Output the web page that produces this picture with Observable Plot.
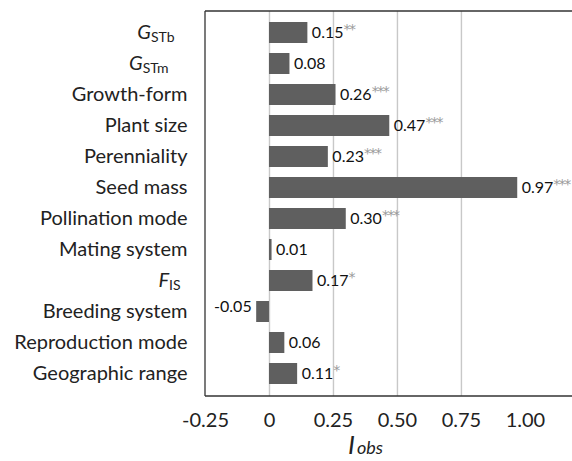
<!DOCTYPE html>
<html><head><meta charset="utf-8">
<script src="https://cdn.jsdelivr.net/npm/d3@7"></script>
<script src="https://cdn.jsdelivr.net/npm/@observablehq/plot@0.6"></script>
<style>body{margin:0;background:#fff;font-family:Lato,sans-serif;overflow:hidden}</style>
</head><body><div id="chart"></div>
<script>
const categories = ["GSTb","GSTm","Growth-form","Plant size","Perenniality","Seed mass","Pollination mode","Mating system","FIS","Breeding system","Reproduction mode","Geographic range"];
const values = [0.15,0.08,0.26,0.47,0.23,0.97,0.30,0.01,0.17,-0.05,0.06,0.11];
const stars = ["**","","***","***","***","***","***","","*","","","*"];
const xTicks = [-0.25,0,0.25,0.5,0.75,1.0];
const xTickLabels = ["-0.25","0","0.25","0.50","0.75","1.00"];
const gridValues = [0,0.25,0.5,0.75];
const special = {GSTb:["G","STb"], GSTm:["G","STm"], FIS:["F","IS"]};

const data = categories.map((c,i)=>({c, v: values[i], s: stars[i]}));

const plot = Plot.plot({
  width: 572, height: 461,
  marginLeft: 205, marginRight: 0, marginTop: 11, marginBottom: 65,
  style: {fontFamily: "Lato, sans-serif", background: "#fff", color: "#222"},
  x: {domain: [-0.25, 1.184], ticks: xTicks, tickFormat: d => xTickLabels[xTicks.indexOf(d)], tickSize: 0, tickPadding: 16, label: null},
  y: {domain: categories, padding: 0.32, tickSize: 0, tickPadding: 18, label: null},
  marks: [
    Plot.ruleX(gridValues, {stroke: "#c8c8c8", strokeWidth: 1.4}),
    Plot.barX(data, {y: "c", x1: 0, x2: "v", fill: "#5f5f5f"}),
    Plot.text(data.filter(d => d.v >= 0), {y: "c", x: "v", text: d => d.v.toFixed(2), textAnchor: "start", dx: 4, fontSize: 16, fill: "#111", className: "vlab"}),
    Plot.text(data.filter(d => d.v < 0), {y: "c", x: "v", text: d => d.v.toFixed(2), textAnchor: "end", dx: -5, dy: -5, fontSize: 16, fill: "#111", className: "vlab"})
  ]
});

const svg = d3.select(plot);
const x = plot.scale("x");
// frame: left, top, bottom
const x0 = x.apply(-0.25), x1 = 572, yTop = 11, yBot = 396;
const g = svg.append("g").attr("stroke", "#333").attr("stroke-width", 1.3);
g.append("line").attr("x1", x0).attr("x2", x0).attr("y1", yTop).attr("y2", yBot);
g.append("line").attr("x1", x0).attr("x2", x1).attr("y1", yTop).attr("y2", yTop);
g.append("line").attr("x1", x0).attr("x2", x1).attr("y1", yBot).attr("y2", yBot);

// axis fonts
svg.selectAll("g[aria-label='x-axis tick label'] text").style("font-size", "20px");
svg.selectAll("g[aria-label='y-axis tick label'] text").each(function() {
  const t = d3.select(this);
  t.style("font-size", "20px");
  const lab = t.text();
  if (special[lab]) {
    const [a, b] = special[lab];
    t.text("");
    t.append("tspan").attr("font-style", "italic").style("font-size", "20px").text(a);
    t.append("tspan").style("font-size", "14px").attr("dy", "0.15em").text(b);
    t.attr("transform", (t.attr("transform") || "") + ` translate(${lab === "FIS" ? -7 : lab === "GSTm" ? -19 : -13},0)`);
  }
});
// stars
svg.selectAll("g.vlab text").each(function() {
  const t = d3.select(this);
  const lab = t.text();
  const row = data.find(r => r.v.toFixed(2) === lab);
  if (row && row.s) {
    t.append("tspan").attr("fill", "#9a9a9a").style("font-family", "'DejaVu Sans', sans-serif").style("font-size", "14px").style("letter-spacing", "-1.5px").attr("dy", "-0.3em").text(row.s);
  }
});
// axis title
const title = svg.append("text").attr("x", 348).attr("y", 454).attr("text-anchor", "start").attr("fill", "#222").style("font-family", "Lato, sans-serif");
title.append("tspan").attr("font-style", "italic").style("font-size", "26px").text("I");
title.append("tspan").attr("font-style", "italic").style("font-size", "18px").attr("dx", "2").text("obs");

document.getElementById("chart").append(plot);
</script>
</body></html>
